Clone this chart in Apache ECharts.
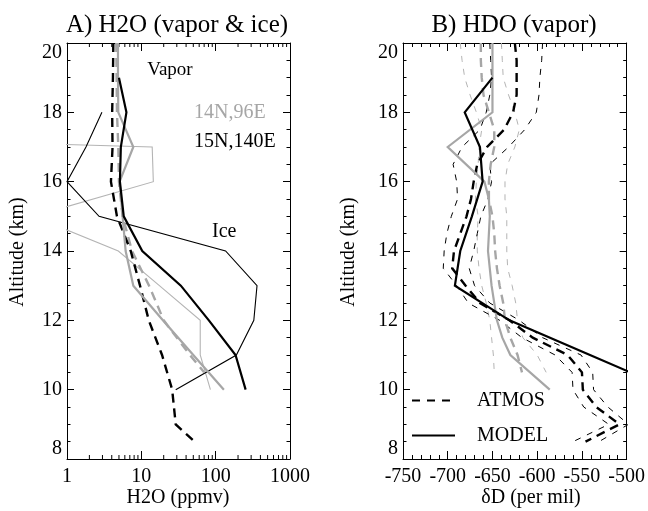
<!DOCTYPE html>
<html><head><meta charset="utf-8">
<script src="https://cdn.jsdelivr.net/npm/echarts@6/dist/echarts.min.js"></script>
<style>html,body{margin:0;padding:0;background:#fff}#c{width:648px;height:511px}</style>
</head><body><div id="c"></div>
<script>
const FONT = '"Liberation Serif", "Times New Roman", serif';
const GRAY = '#a6a6a6';

// ---------- Panel A: H2O (ppmv) vs altitude (km) ----------
const altAtmos15H2O = [20, 19, 18, 17, 16, 15, 14, 13, 12, 11, 10, 9, 8.5];
const h2oAtmos15N   = [4.2, 4.15, 4.05, 4.1, 3.9, 4.7, 7.2, 9.6, 12.6, 19, 26, 29, 52];
const altAtmos14H2O = [20, 19, 18, 17, 16, 15, 14, 13, 12, 11, 10.5];
const h2oAtmos14N   = [4.6, 4.65, 4.7, 4.9, 5.0, 5.6, 7.5, 12.7, 20, 45, 70];
const altModel15H2O = [19, 18, 17, 16, 15, 14, 13, 12, 11, 10];
const h2oModel15N   = [5.0, 6.3, 5.3, 5.15, 5.8, 10.3, 34, 81, 185, 253];
const altModel14H2O = [20, 19, 18, 17, 16, 15, 14, 13, 12, 11, 10];
const h2oModel14N   = [4.85, 4.85, 4.9, 7.8, 5.1, 5.6, 6.15, 7.8, 19.5, 50, 129];
const altIce        = [18, 17, 16, 15, 14, 13, 12, 11, 10];
const ice15N        = [2.95, 1.8, 1.0, 2.7, 136, 360, 326, 190, 29];
const ice14N        = [1e-15, 14, 14.5, 0.35, 4.9, 17.5, 62, 62, 85];
const logMinorTicks = [2,3,4,5,6,7,8,9,20,30,40,50,60,70,80,90,200,300,400,500,600,700,800,900];

// ---------- Panel B: HDO deltaD (per mil) vs altitude (km) ----------
const altAtmos15HDO = [20,19.5,19,18.5,18,17.5,17,16.5,16,15.5,15,14.5,14,13.5,13,12.5,12,11.5,11,10.5,10,9.5,9,8.5];
const hdoAtmos15N   = [-625,-623,-623,-623,-627,-637,-656,-667,-671,-674,-679,-686,-693,-695,-680,-664,-631,-605,-566,-550,-549,-534,-508,-546];
const hdoAtmos15Lo  = [-653,-652,-651,-653,-657,-664,-684,-694,-690,-689,-696,-701,-704,-705,-690,-677,-642,-617,-580,-561,-560,-548,-520,-560];
const hdoAtmos15Hi  = [-594,-595,-597,-598,-601,-614,-632,-653,-651,-655,-663,-667,-671,-676,-670,-653,-620,-594,-551,-538,-537,-521,-498,-531];
const altAtmos14HDO = [20,19.5,19,18.5,18,17.5,17,16.5,16,15.5,15,14.5,14,13.5,13,12.5,12,11.5,11,10.5];
const hdoAtmos14N   = [-663,-663,-662,-660,-654,-648,-648,-652,-654,-654,-650,-648,-647,-645,-642,-638,-636,-630,-622,-617];
const hdoAtmos14Lo  = [-686,-684,-681,-675,-668,-662,-665,-666,-668,-669,-666,-667,-667,-665,-662,-657,-653,-651,-649,-648];
const hdoAtmos14Hi  = [-640,-639,-638,-632,-625,-620,-625,-633,-636,-636,-634,-634,-634,-633,-628,-624,-622,-616,-600,-590];
const altModel15HDO = [19, 18, 17, 16, 15, 14, 13, 12, 11, 10];
const hdoModel15N   = [-650, -681, -664, -661, -673, -686, -692, -631, -541, -451];
const altModel14HDO = [20, 19, 18, 17, 16, 15.5, 15, 14, 13, 12, 11.5, 11, 10];
const hdoModel14N   = [-650, -650, -650, -700, -659, -654, -653, -655, -651, -645, -639, -630, -586];

const yTicksKm = [8, 10, 12, 14, 16, 18, 20];

function pairs(xs, alts) { return alts.map((a, i) => [xs[i], a]); }

const chart = echarts.init(document.getElementById('c'), null, {renderer: 'canvas'});
const black = {color: '#000', width: 1};

function yAx(grid, pos, labels) {
  return {
    type: 'value', gridIndex: grid, position: pos, min: yTicksKm[0], max: yTicksKm[yTicksKm.length - 1], interval: 2,
    axisLine: {show: true, lineStyle: black},
    axisTick: {show: true, inside: true, length: 7, lineStyle: black},
    minorTick: {show: true, splitNumber: 4, length: 3.5, lineStyle: black},
    splitLine: {show: false},
    axisLabel: {show: labels, margin: 5, fontFamily: FONT, fontSize: 20, color: '#000',
      verticalAlignMaxLabel: 'top', verticalAlignMinLabel: 'bottom'}
  };
}
function xLog(grid, pos, labels) {
  return {
    type: 'log', logBase: 10, gridIndex: grid, position: pos, min: 1, max: 1000,
    axisLine: {show: true, lineStyle: black},
    axisTick: {show: true, inside: true, length: 8, lineStyle: black},
    splitLine: {show: false},
    axisLabel: {show: labels, margin: 8, fontFamily: FONT, fontSize: 20, color: '#000',
      formatter: v => String(Math.round(v))}
  };
}
function xLin(grid, pos, labels) {
  return {
    type: 'value', gridIndex: grid, position: pos, min: -750, max: -500, interval: 50,
    axisLine: {show: true, lineStyle: black},
    axisTick: {show: true, inside: true, length: 8, lineStyle: black},
    minorTick: {show: true, splitNumber: 5, length: 4, lineStyle: black},
    splitLine: {show: false},
    axisLabel: {show: labels, margin: 8, fontFamily: FONT, fontSize: 20, color: '#000'}
  };
}

function line(xi, data, color, width, dash, z) {
  return {
    type: 'line', xAxisIndex: xi, yAxisIndex: xi, data: data, showSymbol: false, symbol: 'none',
    clip: true, silent: true, animation: false, z: z || 2,
    lineStyle: {color: color, width: width, type: dash || 'solid', cap: 'butt', join: 'miter'}
  };
}

const thickDash = [9, 6];
const thinDash = [6, 7];

const series = [
  // Panel A
  line(0, pairs(ice14N, altIce), '#b4b4b4', 1.1, 'solid', 2),
  line(0, pairs(ice15N, altIce), '#000', 1.1, 'solid', 2),
  line(0, pairs(h2oAtmos14N, altAtmos14H2O), GRAY, 2.4, thickDash, 3),
  line(0, pairs(h2oAtmos15N, altAtmos15H2O), '#000', 2.4, thickDash, 3),
  line(0, pairs(h2oModel14N, altModel14H2O), GRAY, 2.2, 'solid', 4),
  line(0, pairs(h2oModel15N, altModel15H2O), '#000', 2.2, 'solid', 4),
  {
    type: 'custom', xAxisIndex: 0, yAxisIndex: 0, silent: true, animation: false, clip: false, z: 1,
    data: logMinorTicks.map(v => [v, yTicksKm[0]]),
    renderItem: function (params, api) {
      const x = api.coord([api.value(0), yTicksKm[0]])[0];
      const yb = api.coord([1, yTicksKm[0]])[1];
      const yt = api.coord([1, yTicksKm[yTicksKm.length - 1]])[1];
      return {type: 'group', children: [
        {type: 'line', shape: {x1: x, y1: yb, x2: x, y2: yb - 4}, style: {stroke: '#000', lineWidth: 1}},
        {type: 'line', shape: {x1: x, y1: yt, x2: x, y2: yt + 4}, style: {stroke: '#000', lineWidth: 1}}
      ]};
    }
  },
  // Panel B
  line(2, pairs(hdoAtmos14Lo, altAtmos14HDO), '#b4b4b4', 1, thinDash, 2),
  line(2, pairs(hdoAtmos14Hi, altAtmos14HDO), '#b4b4b4', 1, thinDash, 2),
  line(2, pairs(hdoAtmos15Lo, altAtmos15HDO), '#000', 1, thinDash, 2),
  line(2, pairs(hdoAtmos15Hi, altAtmos15HDO), '#000', 1, thinDash, 2),
  line(2, pairs(hdoAtmos14N, altAtmos14HDO), GRAY, 2.4, thickDash, 3),
  line(2, pairs(hdoAtmos15N, altAtmos15HDO), '#000', 2.4, thickDash, 3),
  line(2, pairs(hdoModel14N, altModel14HDO), GRAY, 2.2, 'solid', 4),
  line(2, pairs(hdoModel15N, altModel15HDO), '#000', 2.2, 'solid', 5)
];

function txt(x, y, s, size, opts) {
  opts = opts || {};
  return {type: 'text', x: x, y: y, rotation: opts.rot || 0, silent: true,
    style: {text: s, font: size + 'px ' + FONT, fill: opts.fill || '#000',
      textAlign: opts.align || 'center', textVerticalAlign: 'middle'}};
}

const graphic = [
  txt(177, 25, 'A) H2O (vapor & ice)', 25),
  txt(514, 25, 'B) HDO (vapor)', 25),
  txt(178, 498, 'H2O (ppmv)', 20),
  txt(531, 498, 'δD (per mil)', 20),
  txt(18, 252, 'Altitude (km)', 20, {rot: Math.PI / 2}),
  txt(349, 252, 'Altitude (km)', 20, {rot: Math.PI / 2}),
  txt(170, 70, 'Vapor', 19),
  txt(194, 113, '14N,96E', 20, {align: 'left', fill: '#a6a6a6'}),
  txt(194, 141.5, '15N,140E', 20, {align: 'left'}),
  txt(212, 232, 'Ice', 20, {align: 'left'}),
  {type: 'line', silent: true, shape: {x1: 412, y1: 400.5, x2: 455, y2: 400.5}, style: {stroke: '#000', lineWidth: 2, lineDash: [8, 7]}},
  {type: 'line', silent: true, shape: {x1: 412, y1: 435.5, x2: 455, y2: 435.5}, style: {stroke: '#000', lineWidth: 2}},
  txt(477, 400.5, 'ATMOS', 20, {align: 'left'}),
  txt(477, 435.5, 'MODEL', 20, {align: 'left'})
];

chart.setOption({
  animation: false,
  backgroundColor: '#fff',
  grid: [
    {left: 67, top: 43, width: 223, height: 416, containLabel: false},
    {left: 403, top: 43, width: 224, height: 416, containLabel: false}
  ],
  xAxis: [xLog(0, 'bottom', true), xLog(0, 'top', false), xLin(1, 'bottom', true), xLin(1, 'top', false)],
  yAxis: [yAx(0, 'left', true), yAx(0, 'right', false), yAx(1, 'left', true), yAx(1, 'right', false)],
  series: series.map(s => {
    if (s.xAxisIndex === 2) { s.yAxisIndex = 2; }
    return s;
  }),
  graphic: graphic
});
</script></body></html>
